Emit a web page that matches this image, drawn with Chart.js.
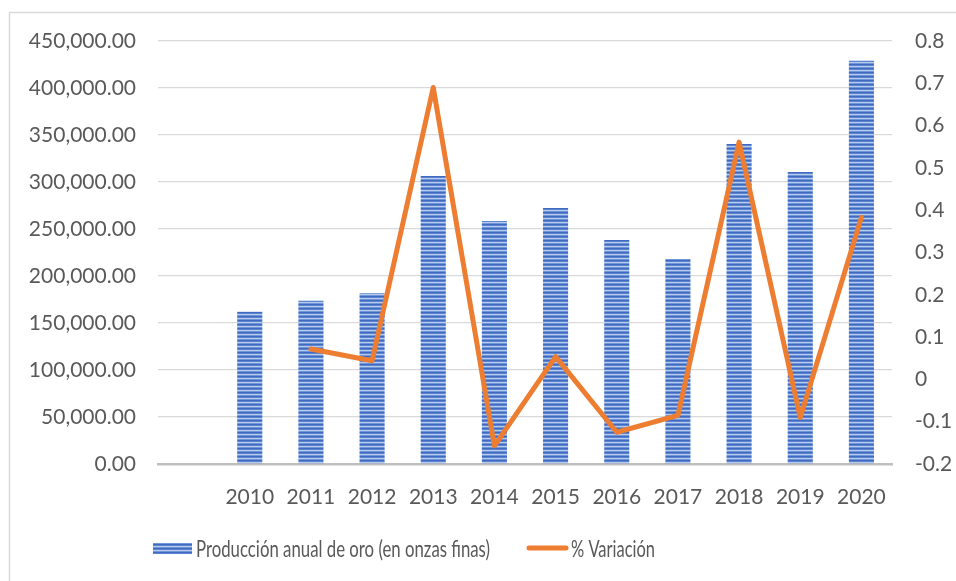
<!DOCTYPE html>
<html>
<head>
<meta charset="utf-8">
<script src="https://cdn.jsdelivr.net/npm/chart.js@4.4.1/dist/chart.umd.min.js"></script>
<style>
html,body{margin:0;padding:0;background:#fff;}
#wrap{width:956px;height:581px;position:relative;}
</style>
</head>
<body>
<div id="wrap"><canvas id="c"></canvas></div>
<script>
const categories = ['', '2010', '2011', '2012', '2013', '2014', '2015', '2016', '2017', '2018', '2019', '2020'];
const produccion = [null, 162000, 173700, 181600, 306500, 258500, 272300, 238300, 218100, 340400, 310600, 429000];
const variacion = [null, null, 0.072, 0.044, 0.69, -0.157, 0.054, -0.125, -0.085, 0.561, -0.09, 0.383];
const leftTicks = [0, 50000, 100000, 150000, 200000, 250000, 300000, 350000, 400000, 450000];
const rightTicks = [-0.2, -0.1, 0, 0.1, 0.2, 0.3, 0.4, 0.5, 0.6, 0.7, 0.8];
const barLabel = 'Producción anual de oro (en onzas finas)';
const lineLabel = '% Variación';

const FONT = 'Lato, "Noto Sans", sans-serif';
const LEGEND_FONT = 'Lato, "Noto Sans", sans-serif';
const TXT = '#595959';

function makePattern() {
  const p = document.createElement('canvas');
  p.width = 4; p.height = 4;
  const g = p.getContext('2d');
  const rows = ['#3E6BC1', '#5C84CF', '#B9CBEC', '#7196D8'];
  rows.forEach((c, i) => { g.fillStyle = c; g.fillRect(0, i, 4, 1); });
  return document.getElementById('c').getContext('2d').createPattern(p, 'repeat');
}
const pattern = makePattern();

function drawText(ctx, text, x, y, targetW) {
  const w = ctx.measureText(text).width;
  const sx = targetW / w;
  ctx.save();
  ctx.translate(x, y);
  ctx.scale(sx, 1);
  ctx.fillText(text, 0, 0);
  ctx.restore();
}

const decor = {
  id: 'decor',
  afterDraw(chart) {
    const ctx = chart.ctx;
    ctx.save();
    ctx.strokeStyle = '#D9D9D9';
    ctx.lineWidth = 1.5;
    ctx.beginPath();
    ctx.moveTo(9.5, 581); ctx.lineTo(9.5, 12.5); ctx.lineTo(956, 12.5);
    ctx.stroke();
    const ly = 548;
    ctx.fillStyle = pattern;
    ctx.fillRect(153, ly - 5, 39, 11);
    ctx.font = '24px ' + LEGEND_FONT;
    ctx.fillStyle = TXT;
    ctx.textBaseline = 'middle';
    ctx.textAlign = 'left';
    drawText(ctx, barLabel, 196, ly + 1, 294);
    ctx.strokeStyle = '#ED7D31';
    ctx.lineWidth = 5;
    ctx.lineCap = 'round';
    ctx.beginPath();
    ctx.moveTo(529, ly); ctx.lineTo(566, ly);
    ctx.stroke();
    drawText(ctx, lineLabel, 571, ly + 1, 84);
    ctx.restore();
  }
};

new Chart(document.getElementById('c'), {
  data: {
    labels: categories,
    datasets: [
      {
        type: 'line',
        label: lineLabel,
        data: variacion,
        yAxisID: 'y1',
        borderColor: '#ED7D31',
        backgroundColor: '#ED7D31',
        borderWidth: 5,
        pointRadius: 0,
        tension: 0,
        borderJoinStyle: 'round',
        borderCapStyle: 'round',
        spanGaps: false,
        order: 0
      },
      {
        type: 'bar',
        label: barLabel,
        data: produccion,
        yAxisID: 'y',
        backgroundColor: pattern,
        borderWidth: 0,
        barPercentage: 0.41,
        categoryPercentage: 1.0,
        order: 1
      }
    ]
  },
  options: {
    responsive: true,
    maintainAspectRatio: false,
    animation: false,
    layout: { padding: { top: 41, bottom: 0, left: 0, right: 0 } },
    plugins: { legend: { display: false }, tooltip: { enabled: false } },
    scales: {
      x: {
        grid: { display: false, drawTicks: false },
        border: { display: true, color: '#BFBFBF', width: 2.5 },
        ticks: { color: TXT, font: { family: FONT, size: 21 }, padding: 21, maxRotation: 0, autoSkip: false },
        afterFit(s) { s.height = 117; }
      },
      y: {
        position: 'left',
        min: 0, max: 450000,
        afterBuildTicks(s) { s.ticks = leftTicks.map(v => ({ value: v })); },
        grid: { color: '#D9D9D9', lineWidth: 1.3, drawTicks: false },
        border: { display: false },
        ticks: {
          color: TXT, font: { family: FONT, size: 21 }, padding: 22,
          callback: v => Number(v).toLocaleString('en-US', { minimumFractionDigits: 2, maximumFractionDigits: 2 })
        },
        afterFit(s) { s.width = 158; }
      },
      y1: {
        position: 'right',
        min: -0.2, max: 0.8,
        afterBuildTicks(s) { s.ticks = rightTicks.map(v => ({ value: v })); },
        grid: { display: false, drawTicks: false },
        border: { display: false },
        ticks: {
          color: TXT, font: { family: FONT, size: 21 }, padding: 23,
          callback: v => String(Math.round(v * 10) / 10)
        },
        afterFit(s) { s.width = 64; }
      }
    }
  },
  plugins: [decor]
});
</script>
</body>
</html>
